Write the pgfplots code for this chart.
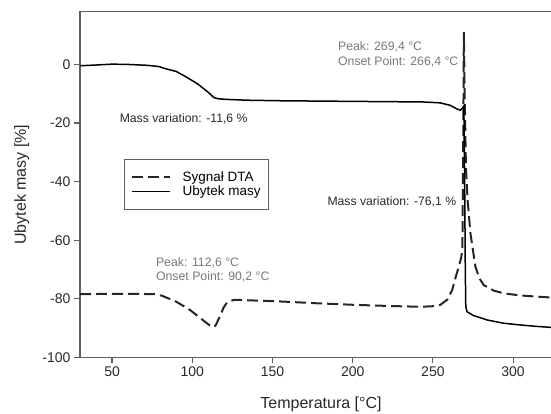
\documentclass[border=0pt]{standalone}
\usepackage{fontspec}
\setmainfont{Liberation Sans}
\usepackage{pgfplots}
\pgfplotsset{compat=1.18}
\definecolor{axgray}{RGB}{95,95,95}
\definecolor{notegray}{RGB}{120,120,120}
\definecolor{textdark}{RGB}{40,40,40}

\pgfplotstableread{
x y
30 -78.4
45.8 -78.3
67.8 -78.3
76.6 -78.4
81 -78.9
89.8 -80.9
98.5 -83.75
105.1 -86.6
111.7 -89.4
113.5 -89.6
114.6 -89.0
117.2 -86
119.5 -83
121.6 -81.25
126 -80.3
133.7 -80.45
155.7 -80.9
177.6 -81.5
199.6 -82
221.6 -82.4
242.2 -82.7
250 -82.5
254.7 -82.0
258.9 -80.3
262 -77
264 -73
266.1 -69
267.6 -66.1
268.4 -63
269.0 -20
269.3 11
269.8 -10
270.6 -35
271.6 -46
273.4 -57.6
276.5 -69
279 -73
281.7 -75.3
288 -77.2
294.1 -78.1
304 -78.8
314 -79.2
326 -79.6
}\dta

\pgfplotstableread{
x y
30 -0.45
40 -0.2
50 0.1
60 0
72 -0.3
79 -0.7
83 -1.4
90 -2.4
96 -4.2
103 -6.5
109.5 -9.3
113.5 -11.3
116 -11.7
120.5 -11.9
133.7 -12.2
155.7 -12.4
177.6 -12.5
199.6 -12.6
221.6 -12.7
243.5 -12.8
254.5 -13.1
261 -14.0
265 -15.2
267.2 -15.6
268.5 -14.8
269.3 -14.2
269.8 -40
270.2 -70
270.5 -82.7
271.3 -84.4
275 -85.6
283.8 -87.2
294 -88.3
304.5 -88.9
315 -89.4
326 -89.8
}\mass

\begin{document}
\begin{tikzpicture}
\begin{axis}[
  at={(80pt,56.5pt)}, anchor=south west,
  scale only axis,
  width=474.8pt, height=345.8pt,
  xmin=30, xmax=326, ymin=-100, ymax=18,
  xtick={50,100,...,300},
  ytick={-100,-80,...,0},
  xtick pos=left, ytick pos=left,
  tick align=outside,
  major tick length=6pt,
  tick style={axgray, line width=1.2pt},
  axis line style={axgray, line width=1.3pt},
  /pgf/number format/assume math mode=true,
  tick label style={font=\fontsize{14}{16}\selectfont, text=textdark},
  xlabel={Temperatura [°C]},
  ylabel={Ubytek masy [\%]},
  label style={font=\fontsize{16}{18}\selectfont, text=textdark},
  xlabel style={at={(axis description cs:0.5076,-0.1356)}, anchor=center},
  ylabel style={at={(axis description cs:-0.1226,0.5)}, anchor=center},
  legend style={at={(axis cs:57.6,-32.35)}, anchor=north west,
    draw=axgray, line width=0.8pt,
    font=\fontsize{13.5}{15}\selectfont,
    inner xsep=6pt, inner ysep=10pt,
    row sep=-1pt,
    cells={anchor=west},
    /tikz/every odd column/.append style={column sep=10pt}},
  legend image code/.code={\draw[#1] (0pt,0pt) -- (38pt,0pt);},
  clip=false,
]
\addplot[black!85, line width=2pt, dash pattern=on 11pt off 5pt] table {\dta};
\addlegendentry{Sygnał DTA}
\addplot[black, line width=1.5pt] table {\mass};
\addlegendentry{Ubytek masy}

\node[anchor=west, align=left, text=notegray, font=\fontsize{12.3}{14.3}\selectfont] at (axis cs:188.7,3.5) {Peak: 269,4 °C\\Onset Point: 266,4 °C};
\node[anchor=west, text=textdark, font=\fontsize{12.2}{14}\selectfont] at (axis cs:52.6,-18.5) {Mass variation: -11,6 \%};
\node[anchor=west, text=textdark, font=\fontsize{12.2}{14}\selectfont] at (axis cs:182.1,-46.8) {Mass variation: -76,1 \%};
\node[anchor=west, align=left, text=notegray, font=\fontsize{12.3}{14.3}\selectfont] at (axis cs:75.2,-70.0) {Peak: 112,6 °C\\Onset Point: 90,2 °C};
\end{axis}
\pgfresetboundingbox
\useasboundingbox (0pt,0pt) rectangle (551pt,414pt);
\end{tikzpicture}
\end{document}
